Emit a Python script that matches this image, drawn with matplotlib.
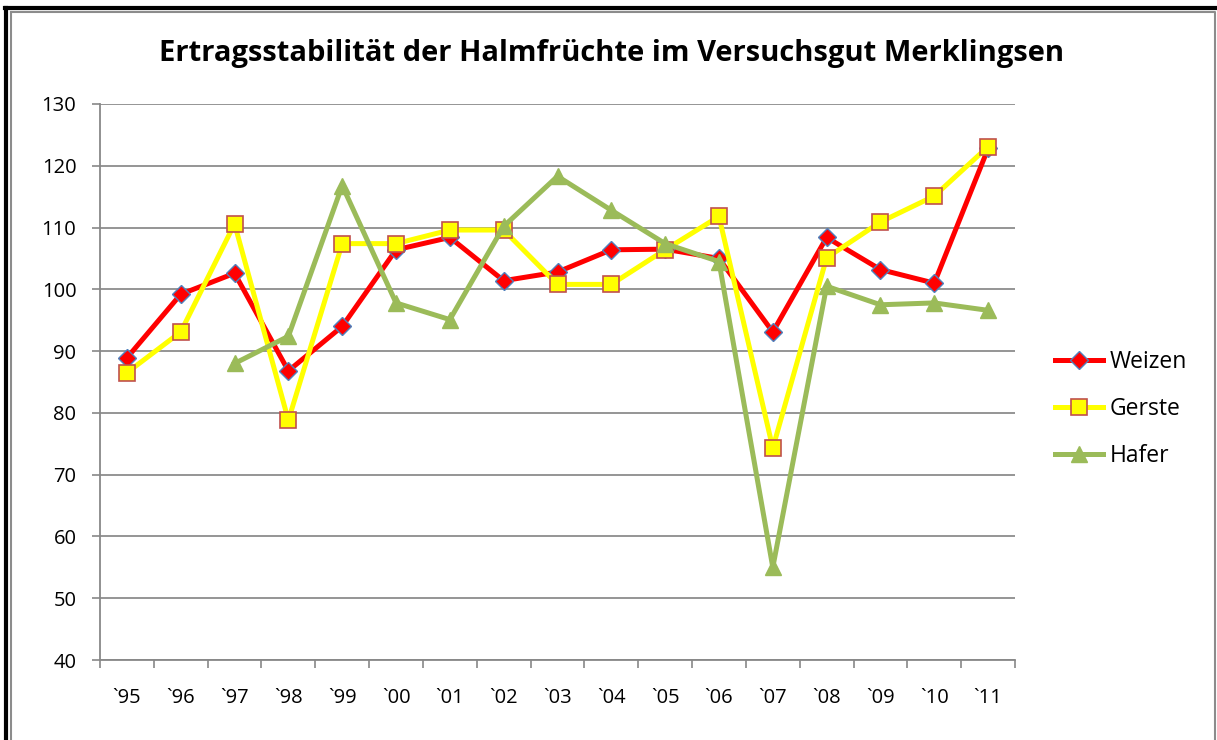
import matplotlib
matplotlib.use("Agg")
import matplotlib.pyplot as plt
import numpy as np
from matplotlib.lines import Line2D

years = ["`95", "`96", "`97", "`98", "`99", "`00", "`01", "`02", "`03",
         "`04", "`05", "`06", "`07", "`08", "`09", "`10", "`11"]
weizen = [88.9, 99.2, 102.6, 86.8, 94.0, 106.4, 108.4, 101.4, 102.8,
          106.4, 106.5, 105.0, 93.1, 108.4, 103.2, 101.0, 122.8]
gerste = [86.5, 93.1, 110.6, 78.8, 107.4, 107.4, 109.6, 109.6, 100.8,
          100.8, 106.4, 111.8, 74.3, 105.1, 110.9, 115.1, 123.1]
hafer = [np.nan, np.nan, 88.0, 92.4, 116.8, 97.8, 95.1, 110.2, 118.3,
         112.8, 107.4, 104.5, 55.0, 100.5, 97.5, 97.8, 96.6]
yticks = [40, 50, 60, 70, 80, 90, 100, 110, 120, 130]
title = "Ertragsstabilität der Halmfrüchte im Versuchsgut Merklingsen"

plt.rcParams['font.family'] = ['Open Sans', 'DejaVu Sans']

W, H = 1217, 740
fig = plt.figure(figsize=(W/100, H/100), dpi=100)
ax = fig.add_axes([100/W, 1-660/H, (1015-100)/W, (660-104)/H])

x = np.arange(len(years))
ax.plot(x, weizen, color='#FF0000', lw=3.6, marker='D', ms=9.5,
        mfc='#FF0000', mec='#4F81BD', mew=1.0, label='Weizen', zorder=3)
ax.plot(x, gerste, color='#FFFF00', lw=3.6, marker='s', ms=11.5,
        mfc='#FFFF00', mec='#C0504D', mew=1.2, label='Gerste', zorder=4)
ax.plot(x, hafer, color='#9BBB59', lw=3.6, marker='^', ms=12,
        mfc='#9BBB59', mec='#9BBB59', mew=1.0, label='Hafer', zorder=5)

ax.set_xlim(-0.5, len(years) - 0.5)
ax.set_ylim(40, 130)
ax.set_yticks(yticks)
ax.set_yticklabels([str(v) for v in yticks], fontsize=14.5)
ax.set_xticks(x)
ax.set_xticklabels(years, fontsize=14.5)
ax.set_xticks(np.arange(-0.5, len(years), 1), minor=True)
ax.tick_params(axis='x', which='major', length=0, pad=20)
ax.tick_params(axis='x', which='minor', length=6, color='#888888', width=1.2, direction='out')
ax.tick_params(axis='y', length=6, color='#888888', width=1.2, direction='out', pad=11)
ax.grid(axis='y', color='#8C8C8C', lw=1.3)
ax.set_axisbelow(True)
for s in ['top', 'right']:
    ax.spines[s].set_visible(False)
for s in ['left', 'bottom']:
    ax.spines[s].set_color('#888888')
    ax.spines[s].set_linewidth(1.3)

leg = fig.legend(loc='center left', bbox_to_anchor=(1055/W, 1-409/H),
                 frameon=False, fontsize=16.5, handlelength=2.1,
                 labelspacing=1.0, handletextpad=0.27, borderpad=0,
                 borderaxespad=0)

fig.text(612/W, 1-53/H, title, ha='center', va='center',
         fontsize=21, fontweight='bold')

# outer frame: black top & left, grey inner frame
fig.add_artist(Line2D([5/W, 1], [1-8/H, 1-8/H], transform=fig.transFigure,
                      color='black', lw=3))
fig.add_artist(Line2D([6/W, 6/W], [0, 1-8/H], transform=fig.transFigure,
                      color='black', lw=3))
fig.add_artist(Line2D([11/W, 1215/W, 1215/W], [1-12/H, 1-12/H, 0],
                      transform=fig.transFigure, color='#8C8C8C', lw=1.5))
fig.add_artist(Line2D([11/W, 11/W], [1-12/H, 0],
                      transform=fig.transFigure, color='#8C8C8C', lw=1.5))

fig.savefig('out.png', dpi=100)
